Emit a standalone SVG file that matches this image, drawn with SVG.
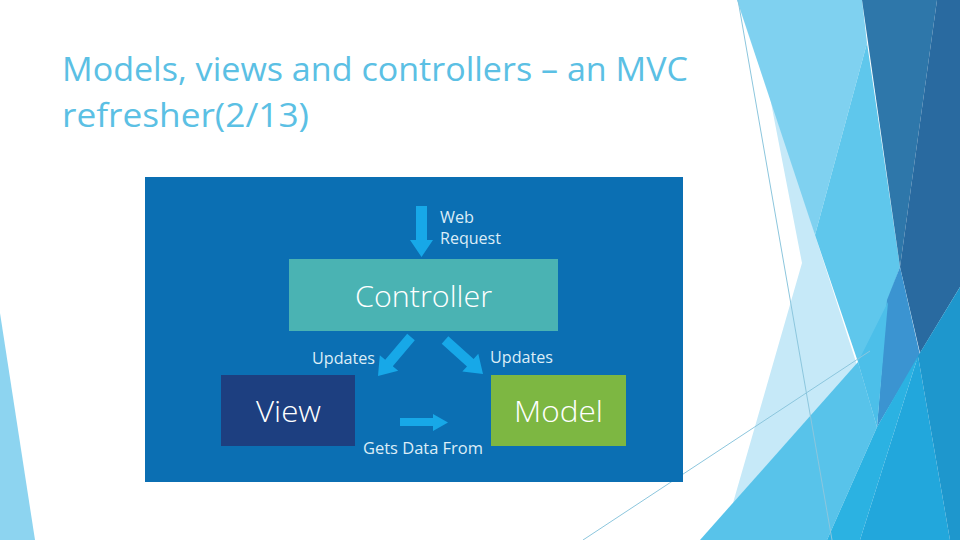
<svg xmlns="http://www.w3.org/2000/svg" width="960" height="540" viewBox="0 0 960 540">
  <style>
    .title { font-family: "Open Sans", "Liberation Sans", sans-serif; font-size: 32px; fill: #5bc0e4; }
    .box-label { font-family: "Open Sans", "Noto Sans", sans-serif; font-weight: 300; fill: #ffffff; text-anchor: middle; }
    .small { font-family: "Open Sans", "Noto Sans", sans-serif; font-size: 16px; fill: #dcedf7; }
    .arrow { fill: #17a8e8; }
    .thin { stroke: #8cc6dd; stroke-width: 1; fill: none; }
  </style>
  <rect x="0" y="0" width="960" height="540" fill="#ffffff"/>

  <g id="background">
    <polygon points="0,313 35,540 0,540" fill="#8dd4f0"/>
    <polygon points="757,30 802,263 733,503 703,537 870,350 877,427 815,235" fill="#c6e9f8"/>
    <polygon points="737,0 862,0 867,43 815,235" fill="#7fd1f0"/>
    <polygon points="867,43 900,267 888,300 887,360 858,362 815,235" fill="#5fc7ec"/>
    <polygon points="862,0 937,0 900,267" fill="#2e77aa"/>
    <polygon points="937,0 960,0 960,287 920,353 900,267" fill="#296aa0"/>
    <polygon points="900,267 920,355 877,427 887,300" fill="#3b94d1"/>
    <polygon points="858,362 888,302 877,427" fill="#4cbfe9"/>
    <polygon points="700,540 858,362 877,427 827,540" fill="#58c3ea"/>
    <polygon points="877,427 918,356 860,540 827,540" fill="#2bb2e2"/>
    <polygon points="918,356 950,540 860,540" fill="#22a7dc"/>
    <polygon points="960,287 918,356 950,540 960,540" fill="#1e97cd"/>
    <line class="thin" x1="738" y1="0" x2="832" y2="540"/>
    <line class="thin" x1="583" y1="540" x2="870" y2="351"/>
  </g>

  <g id="title">
    <text class="title" x="62" y="81" textLength="626" lengthAdjust="spacingAndGlyphs">Models, views and controllers – an MVC</text>
    <text class="title" x="62" y="127" textLength="247" lengthAdjust="spacingAndGlyphs">refresher(2/13)</text>
  </g>

  <g id="diagram-panel">
    <rect x="145" y="177" width="538" height="305" fill="#0b6fb3"/>
  </g>

  <g id="node-controller">
    <rect x="289" y="259" width="269" height="72" fill="#4ab3b3"/>
    <text class="box-label" x="423.5" y="307" font-size="30" textLength="137" lengthAdjust="spacingAndGlyphs">Controller</text>
  </g>

  <g id="node-view">
    <rect x="221" y="375" width="134" height="71" fill="#1d3f80"/>
    <text class="box-label" x="288.5" y="422" font-size="30" textLength="65" lengthAdjust="spacingAndGlyphs">View</text>
  </g>

  <g id="node-model">
    <rect x="491" y="375" width="135" height="71" fill="#7db742"/>
    <text class="box-label" x="558.5" y="422" font-size="30" textLength="89" lengthAdjust="spacingAndGlyphs">Model</text>
  </g>

  <g id="connectors">
    <polygon class="arrow" points="416,206 427,206 427,240 433,240 421.5,257 410,240 416,240"/>
    <polygon class="arrow" points="407.2,333.8 414.8,340.2 392.8,366.2 398.2,370.8 378,376 379.8,355.2 385.2,359.8"/>
    <polygon class="arrow" points="448.3,336.3 441.7,343.7 467,366.4 462.3,371.6 483,374 478.3,353.8 473.6,359"/>
    <polygon class="arrow" points="400,418 433,418 433,414 448,422.5 433,431 433,426 400,426"/>
    <text class="small" x="440" y="223" textLength="34" lengthAdjust="spacingAndGlyphs">Web</text>
    <text class="small" x="440" y="244" textLength="61" lengthAdjust="spacingAndGlyphs">Request</text>
    <text class="small" x="312" y="364" textLength="63" lengthAdjust="spacingAndGlyphs">Updates</text>
    <text class="small" x="490" y="363" textLength="63" lengthAdjust="spacingAndGlyphs">Updates</text>
    <text class="small" x="363" y="454" textLength="120" lengthAdjust="spacingAndGlyphs">Gets Data From</text>
  </g>
</svg>
